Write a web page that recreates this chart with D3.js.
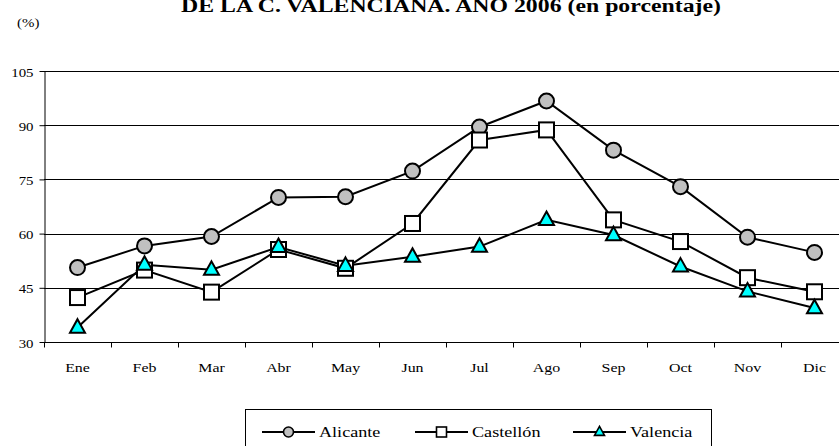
<!DOCTYPE html>
<html>
<head>
<meta charset="utf-8">
<script src="https://cdn.jsdelivr.net/npm/d3@7/dist/d3.min.js"></script>
<style>
  html, body { margin: 0; padding: 0; background: #fff; }
  svg { display: block; }
  svg text { font-family: "Liberation Serif", "Times New Roman", Times, serif; fill: #000; }
</style>
</head>
<body>
<svg id="chart" width="839" height="446"></svg>
<script>
// Monthly hotel occupancy by province, 2006 (%)
const months = ["Ene", "Feb", "Mar", "Abr", "May", "Jun", "Jul", "Ago", "Sep", "Oct", "Nov", "Dic"];
const alicante  = [50.6, 56.6, 59.2, 70.0, 70.2, 77.3, 89.5, 96.7, 83.1, 73.0, 59.0, 54.8];
const castellon = [42.3, 49.9, 43.8, 55.6, 50.4, 62.8, 85.9, 88.7, 63.8, 57.8, 47.8, 43.9];
const valencia  = [34.0, 51.4, 50.0, 56.3, 51.1, 53.6, 56.4, 63.8, 59.6, 50.9, 44.0, 39.4];
const yTicks = [30, 45, 60, 75, 90, 105];

const series = [
  { name: "Alicante",  values: alicante,  shape: "circle",   fill: "#c0c0c0" },
  { name: "Castellón", values: castellon, shape: "square",   fill: "#ffffff" },
  { name: "Valencia",  values: valencia,  shape: "triangle", fill: "#00ffff" }
];

const svg = d3.select("#chart");

const plotLeft = 44, plotRight = 848, plotTop = 71, plotBottom = 342;
const x = d3.scaleBand().domain(months).range([plotLeft, plotRight]);
const y = d3.scaleLinear().domain([30, 105]).range([plotBottom, plotTop]);

// Text drawn with a slightly widened face
const WIDE = 1.18;
function label(parent, tx, ty, str, size, anchor, opts = {}) {
  const t = parent.append("text")
    .attr("transform", `translate(${tx},${ty}) scale(${opts.sx || WIDE},1)`)
    .attr("text-anchor", anchor || "start")
    .attr("font-size", size)
    .text(str);
  if (opts.bold) t.attr("font-weight", "bold");
  return t;
}

// Title (second line)
label(svg, 451, 12, "DE LA C. VALENCIANA. AÑO 2006 (en porcentaje)", 19.5, "middle", { bold: true, sx: 1.22 });
label(svg, 17, 27, "(%)", 13, "start", { sx: 1.15 });

// Horizontal gridlines
svg.append("g")
  .selectAll("line")
  .data(yTicks.filter(d => d > 30))
  .join("line")
  .attr("x1", plotLeft).attr("x2", plotRight)
  .attr("y1", d => Math.round(y(d)) + 0.5).attr("y2", d => Math.round(y(d)) + 0.5)
  .attr("stroke", "#000").attr("stroke-width", 1);

// Y axis
const yAxis = svg.append("g")
  .attr("transform", `translate(${plotLeft + 0.5},0)`)
  .call(d3.axisLeft(y).tickValues(yTicks).tickSize(5).tickSizeOuter(0).tickFormat(() => ""));
yAxis.selectAll("path, line").attr("stroke", "#000");
yAxis.selectAll(".tick").each(function (d) {
  label(d3.select(this), -11, 5, String(d), 13.5, "end", { sx: 1.1 });
});

// X axis with ticks between categories
const xAxisG = svg.append("g").attr("transform", `translate(0,${plotBottom + 0.5})`);
xAxisG.append("line").attr("x1", plotLeft).attr("x2", plotRight).attr("stroke", "#000");
xAxisG.selectAll("line.tick")
  .data(d3.range(months.length + 1))
  .join("line").attr("class", "tick")
  .attr("x1", i => Math.round(plotLeft + i * x.step()) + 0.5)
  .attr("x2", i => Math.round(plotLeft + i * x.step()) + 0.5)
  .attr("y1", 0).attr("y2", 5)
  .attr("stroke", "#000");
months.forEach(m => label(xAxisG, x(m) + x.bandwidth() / 2, 29.5, m, 13.5, "middle"));

const cx = d => x(d) + x.bandwidth() / 2;

function drawMarker(g, shape, fill, size) {
  const s = size;
  if (shape === "circle") {
    g.append("circle").attr("r", s / 2);
  } else if (shape === "square") {
    g.append("rect").attr("x", -s / 2).attr("y", -s / 2).attr("width", s).attr("height", s);
  } else {
    const h = s * 0.9;
    g.append("path").attr("d", `M0,${-h * 0.62}L${s / 2},${h * 0.38}L${-s / 2},${h * 0.38}Z`);
  }
  g.selectAll("*").attr("fill", fill).attr("stroke", "#000").attr("stroke-width", size > 12 ? 2 : 1.6);
}

const line = d3.line().x((d, i) => cx(months[i])).y(d => y(d));

series.forEach(s => {
  svg.append("path")
    .datum(s.values)
    .attr("d", line)
    .attr("fill", "none")
    .attr("stroke", "#000")
    .attr("stroke-width", 2);
});
series.forEach(s => {
  s.values.forEach((v, i) => {
    const g = svg.append("g").attr("transform", `translate(${cx(months[i])},${y(v)})`);
    drawMarker(g, s.shape, s.fill, 15);
  });
});

// Legend
svg.append("rect")
  .attr("x", 245.5).attr("y", 409.5).attr("width", 466).attr("height", 50)
  .attr("fill", "#fff").attr("stroke", "#000").attr("stroke-width", 1);

const legendX = [262, 415, 573];
series.forEach((s, i) => {
  const g = svg.append("g").attr("transform", `translate(${legendX[i]},432)`);
  g.append("line").attr("x1", 0).attr("x2", 53).attr("stroke", "#000").attr("stroke-width", 2);
  const m = g.append("g").attr("transform", "translate(26.5,0)");
  drawMarker(m, s.shape, s.fill, 10);
  label(g, 57, 5, s.name, 15, "start", { sx: 1.21 });
});
</script>
</body>
</html>
